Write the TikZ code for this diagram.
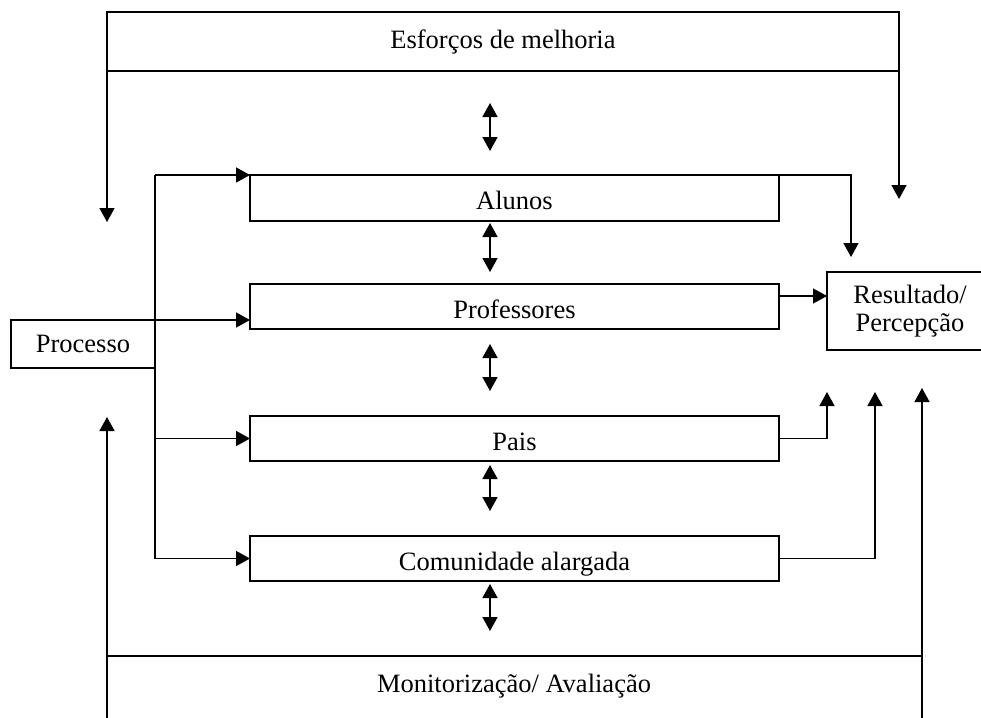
\documentclass[tikz,border=0pt]{standalone}
\usepackage{fontspec}
\setmainfont{Liberation Serif}
\usetikzlibrary{arrows.meta}

\begin{document}
\begin{tikzpicture}[x=1pt, y=-1pt, font=\fontsize{26.5}{28}\selectfont, line width=1.5pt, line join=miter,
	>={Triangle[length=14pt, width=15pt]},
	every node/.style={inner sep=0pt, outer sep=0pt, anchor=north west},
	grupo/.style={draw, minimum width=529pt, minimum height=46pt, text height=23pt, text depth=0pt}]

	\useasboundingbox (0,0) rectangle (981,717);
	\clip (0,0) rectangle (981,717);

	% Esforços e monitorização
	\node[draw, minimum width=792pt, minimum height=59pt] (melhoria) at (107,12) {Esforços de melhoria};
	\node[draw, minimum width=815pt, minimum height=100pt] (monitor) at (107,656) {};
	\node[anchor=center] (monitortxt) at (514,686) {Monitorização/ Avaliação};

	% Processo e grupos
	\node[draw, minimum width=144pt, minimum height=48pt] (processo) at (11,320) {Processo};
	\node[grupo] (alunos) at (250,175) {Alunos};
	\node[grupo, minimum height=45pt] (professores) at (250,284) {Professores};
	\node[grupo, minimum height=45pt] (pais) at (250,416) {Pais};
	\node[grupo, minimum height=45pt] (comunidade) at (250,536) {Comunidade alargada};
	\node[draw, minimum width=166pt, minimum height=78pt, align=center, anchor=north west] (resultado) at (827,272) {Resultado/\\Percepção};

	\coordinate (ramo) at (155,175);
	\coordinate (melhoriaL) at (107,222);
	\coordinate (melhoriaR) at (899,199);
	\coordinate (monitorL) at (107,417);
	\coordinate (monitorR) at (922,388);
	\coordinate (alunosfim) at (851,257);
	\coordinate (profsaida) at (779,296);
	\coordinate (paisfim) at (827,392);
	\coordinate (comfim) at (875,392);

	% setas do processo
	\draw (ramo) -- (ramo |- comunidade.west);
	\draw[->] (ramo) -- (alunos.north west);
	\draw[->] (processo.north east) -- (processo.north east -| professores.west);
	\draw[->] (ramo |- pais.west) -- (pais.west);
	\draw[->] (ramo |- comunidade.west) -- (comunidade.west);

	% setas para o resultado
	\draw[->] (alunos.north east) -| (alunosfim);
	\draw[->] (profsaida) -- (profsaida -| resultado.west);
	\draw[->] (pais.east) -| (paisfim);
	\draw[->] (comunidade.east) -| (comfim);

	% setas das caixas de cima e de baixo
	\draw[->] (melhoria.south west) -- (melhoriaL);
	\draw[->] (melhoria.south east) -- (melhoriaR);
	\draw[->] (monitor.south west) -- (monitorL);
	\draw[->] (monitor.south east) -- (monitorR);

	% setas duplas
	\foreach \a/\b [count=\i] in {103/151, 223/272, 344/391, 465/511, 584/631} {
		\coordinate (dcima\i) at (490,\a);
		\coordinate (dbaixo\i) at (490,\b);
		\draw[<->] (dcima\i) -- (dbaixo\i);
	}
\end{tikzpicture}
\end{document}
